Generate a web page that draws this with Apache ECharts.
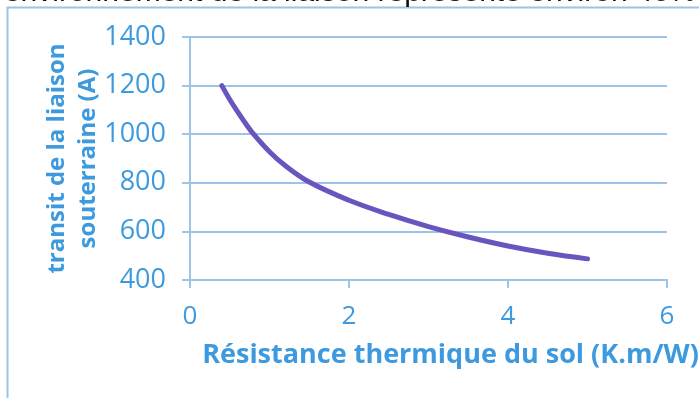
<!DOCTYPE html>
<html>
<head>
<meta charset="utf-8">
<script src="https://cdn.jsdelivr.net/npm/echarts@6/dist/echarts.min.js"></script>
<style>
  html, body { margin: 0; padding: 0; background: #ffffff; overflow: hidden; }
  #chart { width: 699px; height: 398px; }
</style>
</head>
<body>
<div id="chart"></div>
<script>
// Soil thermal resistance (K.m/W) and the matching underground link current (A)
const resistance = [0.4, 0.5, 0.6, 0.7, 0.8, 1.0, 1.2, 1.5, 2.0, 2.5, 3.0, 3.5, 4.0, 4.5, 5.0];
const current = [1200, 1143, 1092, 1044, 1000, 928, 870, 803, 728, 670, 620, 577, 540, 510, 487];

const xTicks = { min: 0, max: 6, interval: 2 };
const yTicks = { min: 400, max: 1400, interval: 200 };

const xTitle = 'Résistance thermique du sol (K.m/W)';
const yTitle = 'transit de la liaison\nsouterraine (A)';
const captionText = 'l’environnement de la liaison représente environ 40%';

const blue = '#3d9ade';
const lineBlue = '#9dc3e6';
const curveColor = '#6a55be';
const font = '"Open Sans", "Noto Sans", sans-serif';

const points = resistance.map((r, i) => [r, current[i]]);

function draw() {
  const chart = echarts.init(document.getElementById('chart'), null, { renderer: 'canvas' });
  chart.setOption({
    animation: false,
    backgroundColor: '#ffffff',
    grid: { left: 190, right: 32, top: 37, bottom: 118, containLabel: false, outerBoundsMode: 'none' },
    xAxis: {
      type: 'value',
      min: xTicks.min, max: xTicks.max, interval: xTicks.interval,
      name: xTitle,
      nameLocation: 'middle',
      nameGap: 62,
      nameMoveOverlap: false,
      nameTextStyle: { color: blue, fontFamily: font, fontWeight: 'bold', fontSize: 27, padding: [0, 0, 0, 44] },
      axisLine: { show: true, lineStyle: { color: lineBlue, width: 2 } },
      axisTick: { show: true, length: 8, lineStyle: { color: lineBlue, width: 2 } },
      axisLabel: { color: blue, fontFamily: font, fontSize: 26, margin: 24, formatter: v => String(v) },
      splitLine: { show: false }
    },
    yAxis: {
      type: 'value',
      min: yTicks.min, max: yTicks.max, interval: yTicks.interval,
      name: yTitle,
      nameLocation: 'middle',
      nameGap: 86,
      nameMoveOverlap: false,
      nameRotate: 90,
      nameTextStyle: { color: blue, fontFamily: font, fontWeight: 'bold', fontSize: 24, lineHeight: 31, align: 'center' },
      axisLine: { show: true, lineStyle: { color: lineBlue, width: 2 } },
      axisTick: { show: true, length: 8, lineStyle: { color: lineBlue, width: 2 } },
      axisLabel: { color: blue, fontFamily: font, fontSize: 27, margin: 24, formatter: v => String(v) },
      splitLine: { show: true, lineStyle: { color: lineBlue, width: 2 } }
    },
    graphic: [
      {
        type: 'polyline',
        silent: true,
        shape: { points: [[7.5, 398], [7.5, 7.5], [699, 7.5]] },
        style: { stroke: lineBlue, lineWidth: 2, fill: null }
      },
      {
        type: 'text',
        silent: true,
        right: 3,
        top: -22,
        style: { text: captionText, fill: '#111111', font: '30px "Liberation Sans", Arial, sans-serif' }
      }
    ],
    series: [{
      type: 'line',
      data: points,
      smooth: 0.4,
      showSymbol: false,
      lineStyle: { color: curveColor, width: 5, cap: 'round' }
    }]
  });
}

// Make sure the faces used on the canvas are ready before drawing
const faces = ['27px "Open Sans"', 'bold 27px "Open Sans"', '30px "Liberation Sans"'];
Promise.race([
  Promise.all(faces.map(f => document.fonts.load(f))),
  new Promise(res => setTimeout(res, 1500))
]).then(draw, draw);
</script>
</body>
</html>
